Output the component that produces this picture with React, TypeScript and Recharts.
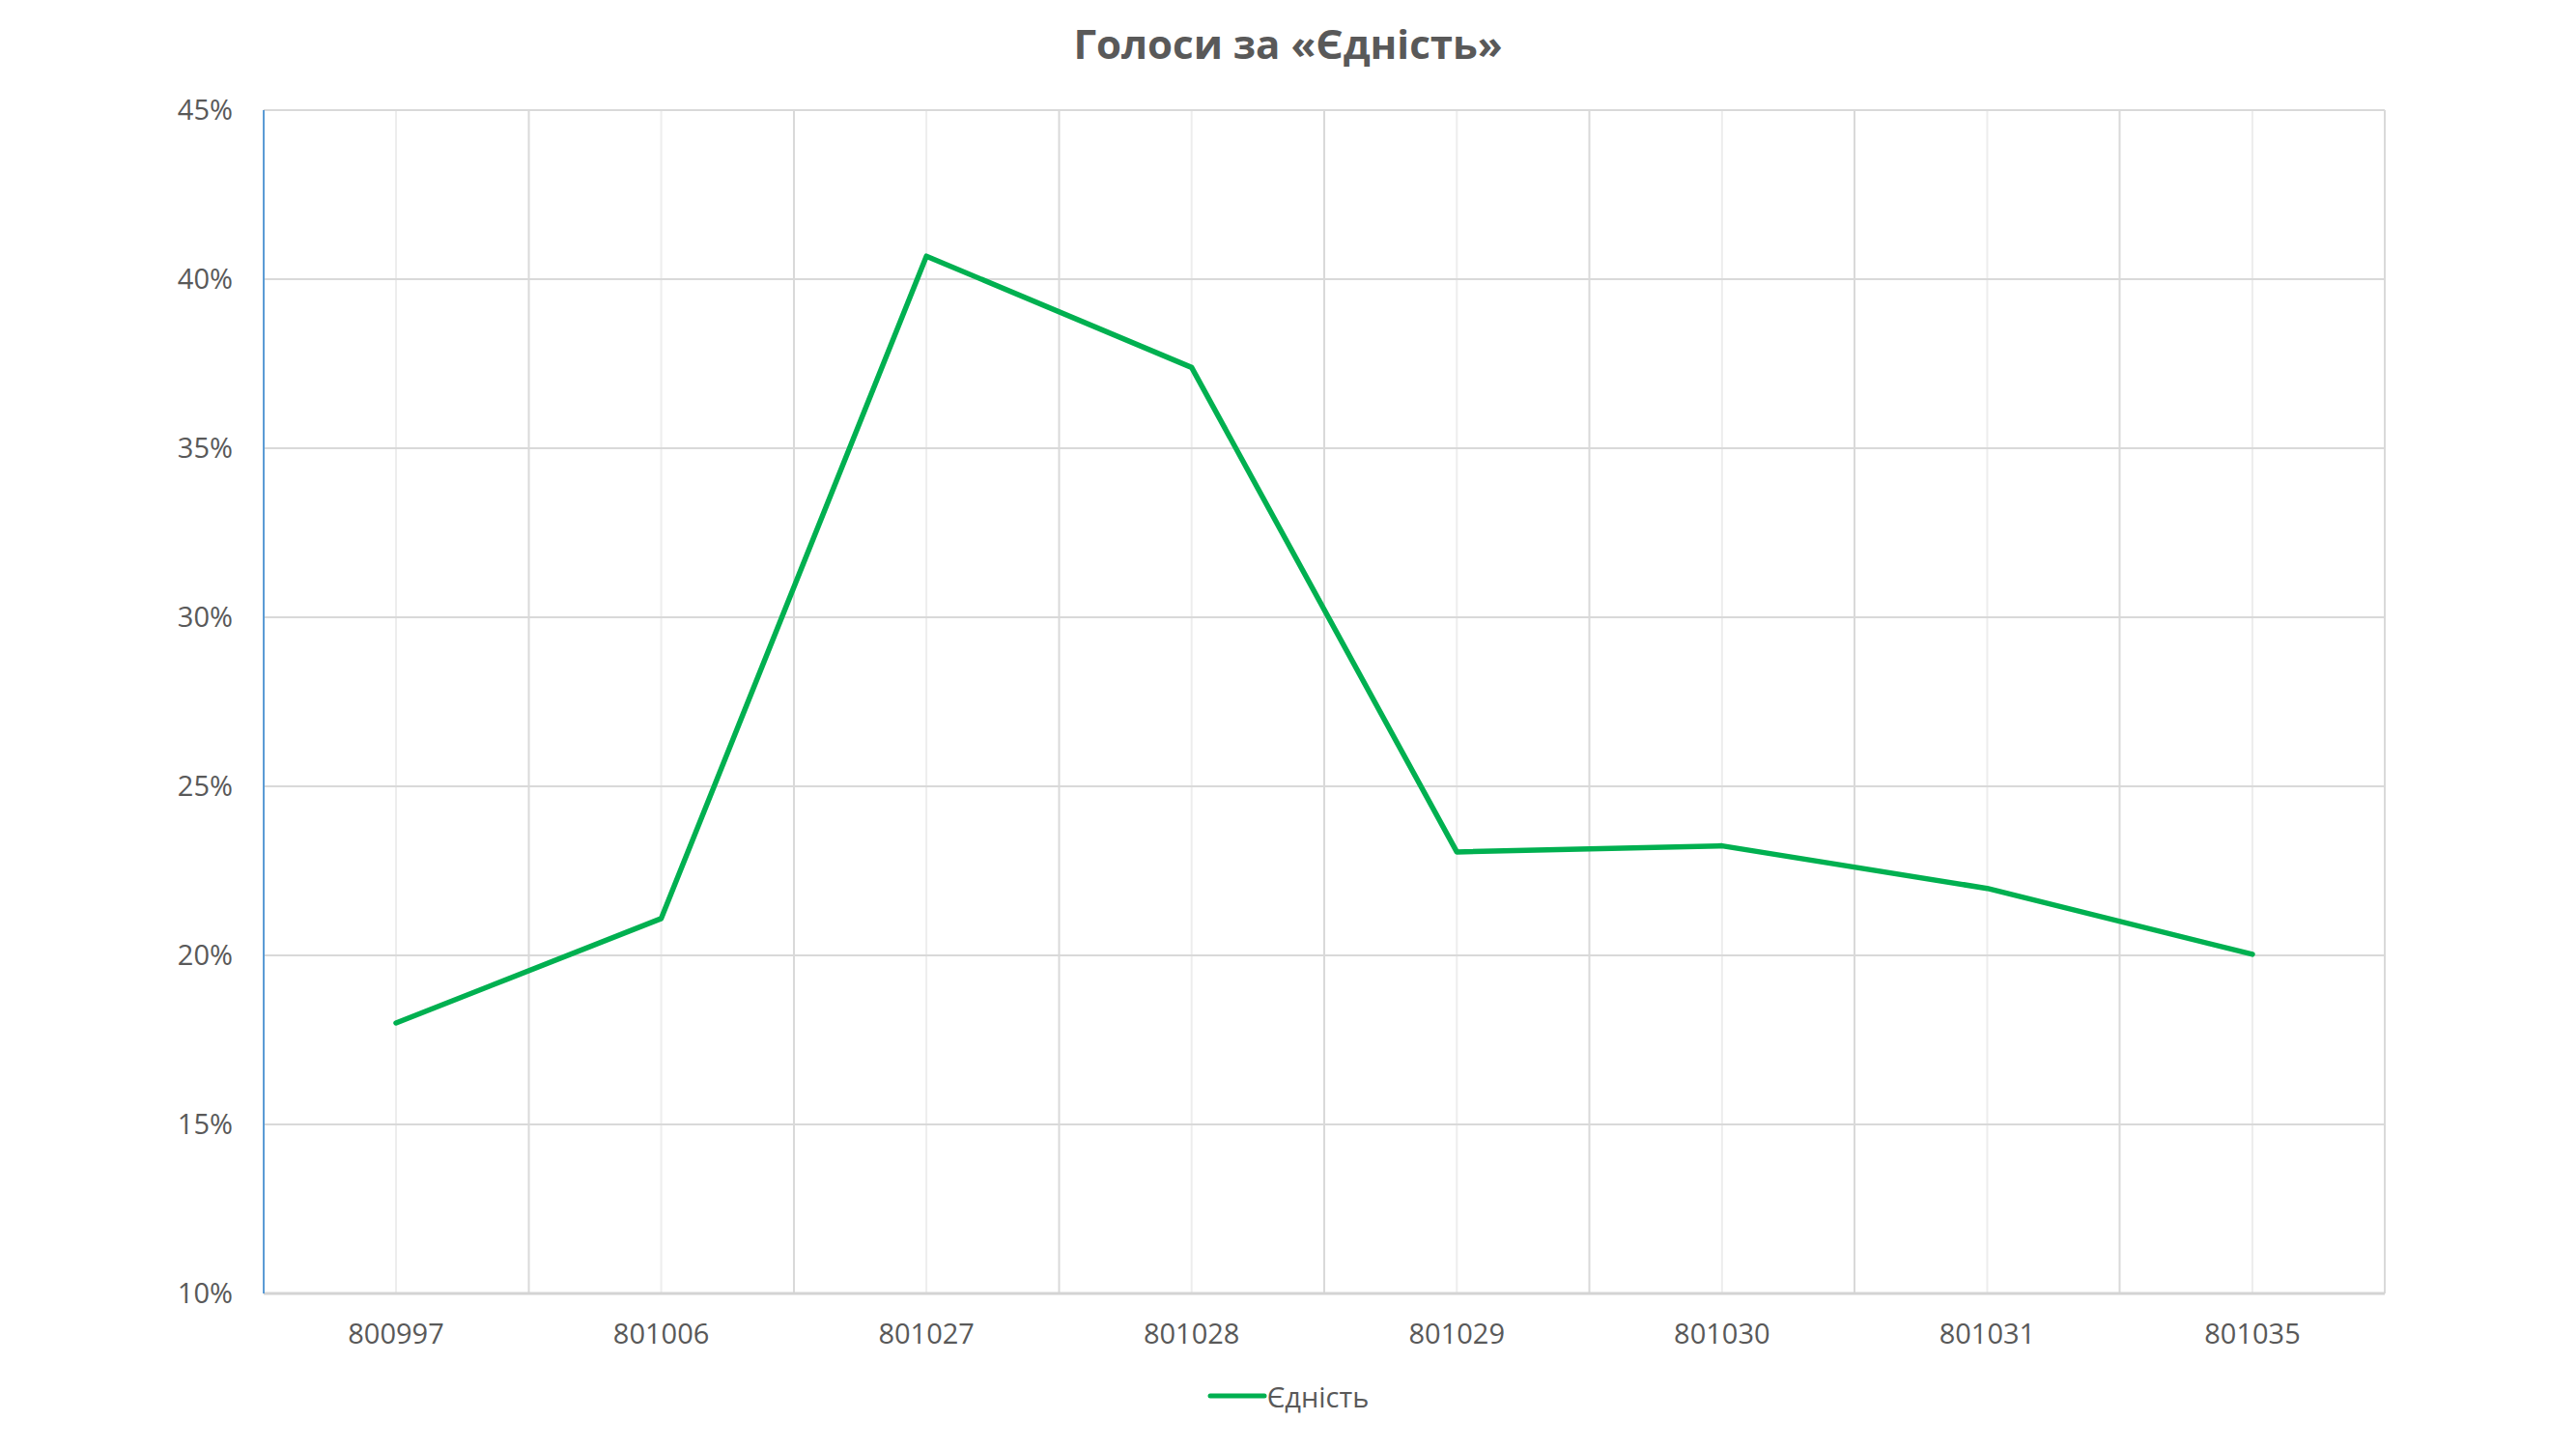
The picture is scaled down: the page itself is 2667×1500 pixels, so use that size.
import { LineChart, Line, XAxis, YAxis, CartesianGrid, Legend } from 'recharts'

// precinct numbers along the bottom
const precincts = ['800997', '801006', '801027', '801028', '801029', '801030', '801031', '801035']
// share of votes for «Єдність», percent
const ednistShare = [18.0, 21.09, 40.68, 37.39, 23.06, 23.24, 21.98, 20.03]
const yTicks = [10, 15, 20, 25, 30, 35, 40, 45]
// category boundaries (in slot units), used only for the darker vertical grid lines
const bandEdges = [-0.5, 0.5, 1.5, 2.5, 3.5, 4.5, 5.5, 6.5, 7.5]

const data = precincts.map((p, i) => ({ precinct: p, slot: i, share: ednistShare[i] }))

const FONT = '"Open Sans", sans-serif'
const TEXT = '#595959'
const GREEN = '#00B050'

const LegendContent = () => (
  <div style={{ display: 'flex', justifyContent: 'center', alignItems: 'center', height: 40 }}>
    <svg width={62} height={12} style={{ display: 'block' }}>
      <line x1={3} y1={6} x2={59} y2={6} stroke={GREEN} strokeWidth={5} strokeLinecap="round" />
    </svg>
    <span style={{ fontFamily: FONT, fontSize: 29, color: TEXT, lineHeight: 1 }}>Єдність</span>
  </div>
)

export default function App() {
  return (
    <div style={{ position: 'absolute', left: 0, top: 0, width: 2667, height: 1500, background: '#fff' }}>
      <div style={{
        position: 'absolute',
        top: 24,
        left: 0,
        width: 2667,
        textAlign: 'center',
        fontFamily: FONT,
        fontWeight: 700,
        fontSize: 42,
        lineHeight: 1,
        color: TEXT,
      }}>
        Голоси за «Єдність»
      </div>
      <LineChart
        width={2667}
        height={1500}
        data={data}
        margin={{ top: 114, right: 198, left: 193, bottom: 61 }}
      >
        <XAxis
          xAxisId="edge"
          dataKey="slot"
          type="number"
          domain={[-0.5, 7.5]}
          ticks={bandEdges}
          allowDataOverflow
          hide
        />
        <XAxis
          xAxisId="cat"
          dataKey="precinct"
          padding={{ left: 137, right: 137 }}
          height={60}
          tickLine={false}
          tickSize={0}
          tickMargin={31}
          axisLine={{ stroke: '#D4D4D4', strokeWidth: 3 }}
          tick={{ fill: TEXT, fontSize: 29, fontFamily: FONT }}
          interval={0}
        />
        <YAxis
          domain={[10, 45]}
          ticks={yTicks}
          width={80}
          tickLine={false}
          tickSize={0}
          tickMargin={32}
          axisLine={{ stroke: '#5B9BD5', strokeWidth: 2 }}
          tick={{ fill: TEXT, fontSize: 29, fontFamily: FONT }}
          tickFormatter={(v) => `${v}%`}
          interval={0}
        />
        <CartesianGrid xAxisId="cat" horizontal={false} stroke="#EDEDED" strokeWidth={2} />
        <CartesianGrid xAxisId="edge" stroke="#D9D9D9" strokeWidth={2} />
        <Legend verticalAlign="bottom" content={<LegendContent />} wrapperStyle={{ left: 0, width: 2667, bottom: 35 }} />
        <Line
          xAxisId="cat"
          type="linear"
          dataKey="share"
          name="Єдність"
          stroke={GREEN}
          strokeWidth={5.5}
          strokeLinejoin="round"
          strokeLinecap="round"
          dot={false}
          activeDot={false}
          isAnimationActive={false}
        />
      </LineChart>
    </div>
  )
}
